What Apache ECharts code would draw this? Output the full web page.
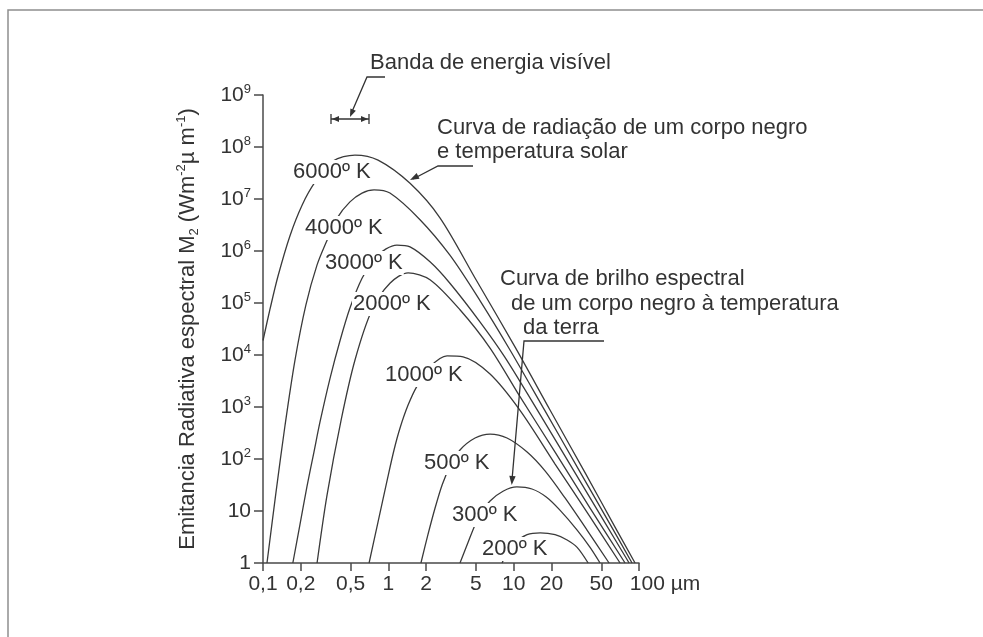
<!DOCTYPE html>
<html><head><meta charset="utf-8">
<script src="https://cdn.jsdelivr.net/npm/echarts@6/dist/echarts.min.js"></script>
<style>html,body{margin:0;padding:0;background:#fff}#c{width:983px;height:637px}</style>
</head><body><div id="c"></div>
<script>
// ---- axis ticks ----
const xTicks = [0.1, 0.2, 0.5, 1, 2, 5, 10, 20, 50, 100];
const xTickLabels = ['0,1', '0,2', '0,5', '1', '2', '5', '10', '20', '50', '{u|100 µm}'];
const yTicks = [1, 10, 1e2, 1e3, 1e4, 1e5, 1e6, 1e7, 1e8, 1e9];
const yTickLabels = ['1', '10', '10{s|2}', '10{s|3}', '10{s|4}', '10{s|5}', '10{s|6}', '10{s|7}', '10{s|8}', '10{s|9}'];

// ---- curves (wavelength µm, spectral emittance) ----
const lam6000 = [0.1, 0.1137, 0.1318, 0.164, 0.205, 0.26, 0.362, 0.542, 0.828, 1.49, 2.59, 5.01, 10.3, 19.5, 37.2, 64.4, 93];
const m6000   = [1.9e4, 7.6e4, 3.3e5, 1.95e6, 7.6e6, 2.1e7, 5.4e7, 7.0e7, 5.6e7, 2.0e7, 4.3e6, 2.8e5, 1.4e4, 875, 54, 4.9, 1];
const lam4000 = [0.1076, 0.127, 0.150, 0.180, 0.220, 0.270, 0.324, 0.390, 0.494, 0.617, 0.769, 1.03, 1.79, 3.1, 5.4, 9.35, 17.8, 33.9, 58.7, 88];
const m4000   = [1, 23, 450, 8.0e3, 9.2e4, 5.4e5, 1.6e6, 4.3e6, 8.8e6, 1.3e7, 1.5e7, 1.3e7, 4.0e6, 8.3e5, 1.1e5, 1.25e4, 840, 56, 5.6, 1];
const lam3000 = [0.173, 0.197, 0.224, 0.255, 0.285, 0.343, 0.412, 0.494, 0.617, 0.783, 0.959, 1.17, 1.49, 2.15, 3.1, 5.4, 8.5, 16.3, 30.9, 53.6, 83.4];
const m3000   = [1, 5.4, 29, 136, 515, 3.6e3, 1.9e4, 8.0e4, 3.0e5, 7.4e5, 1.1e6, 1.3e6, 1.2e6, 6.2e5, 2.4e5, 4.3e4, 9.1e3, 705, 54, 5.9, 1];
const lam2000 = [0.27, 0.324, 0.42, 0.542, 0.741, 1.03, 1.44, 2.15, 3.73, 6.48, 11.2, 21.4, 40.7, 77.4];
const m2000   = [1, 20, 560, 8e3, 7.4e4, 2.4e5, 3.8e5, 2.8e5, 7.4e4, 1.36e4, 1.6e3, 136, 11.4, 1];
const lam1000 = [0.702, 0.828, 0.976, 1.11, 1.24, 1.44, 1.69, 2.15, 2.94, 3.95, 6.48, 11.2, 21.4, 40.7, 70.6];
const m1000   = [1, 6.2, 38, 149, 395, 1.1e3, 2.5e3, 5.9e3, 9.6e3, 9.2e3, 4.3e3, 870, 80, 7.7, 1];
const lam500  = [1.82, 2.07, 2.36, 2.69, 3.11, 3.73, 4.92, 6.48, 8.85, 12.8, 17.8, 25.7, 38.5, 57.7];
const m500    = [1, 3.5, 11.4, 32, 73, 149, 253, 302, 253, 136, 59, 17.8, 4.3, 1];
const lam300  = [3.73, 4.33, 4.92, 5.60, 6.48, 8.22, 10.6, 14.0, 18.2, 23.4, 32.1, 40.7, 48.9];
const m300    = [1, 2.5, 5.4, 9.6, 15.6, 24, 29, 26.5, 18.6, 10.4, 4.3, 2.0, 1];
const lam200  = [8.08, 8.85, 10.1, 12.8, 16.3, 21.4, 26.7, 32.1, 39.3];
const m200    = [1, 1.56, 2.4, 3.5, 3.8, 3.5, 2.77, 2.0, 1];

const curveNames = ['6000º K', '4000º K', '3000º K', '2000º K', '1000º K', '500º K', '300º K', '200º K'];
const curveLams = [lam6000, lam4000, lam3000, lam2000, lam1000, lam500, lam300, lam200];
const curveVals = [m6000, m4000, m3000, m2000, m1000, m500, m300, m200];

const FONT = 'Liberation Sans, Arial, sans-serif';
const INK = '#333333';
const LINE = '#3a3a3a';

function lookup(v, ticks, labels) {
  for (let i = 0; i < ticks.length; i++) {
    if (Math.abs(Math.log10(v) - Math.log10(ticks[i])) < 1e-6) return labels[i];
  }
  return '';
}

const series = curveNames.map((n, k) => ({
  name: n, type: 'line', smooth: 0.3, symbol: 'none', silent: true,
  lineStyle: { color: LINE, width: 1.3 },
  data: curveLams[k].map((l, i) => [l, curveVals[k][i]]),
  z: 2
}));

// ---- annotation helpers (graphic) ----
function txt(x, y, s, bg) {
  const st = { text: s, fontSize: 22, fontFamily: FONT, fill: INK, align: 'left', verticalAlign: 'middle' };
  if (bg) { st.backgroundColor = '#fff'; st.padding = [1, 1, 1, 1]; }
  return { type: 'text', x: x, y: y, style: st, z: 100 };
}
function pline(pts, w) {
  return { type: 'polyline', shape: { points: pts }, style: { stroke: INK, lineWidth: w || 1.3, fill: null }, z: 100 };
}
function head(tip, from, len, half) {
  len = len || 9; half = half || 3.2;
  const dx = tip[0] - from[0], dy = tip[1] - from[1];
  const d = Math.hypot(dx, dy), ux = dx / d, uy = dy / d;
  const bx = tip[0] - ux * len, by = tip[1] - uy * len;
  return { type: 'polygon', shape: { points: [tip, [bx - uy * half, by + ux * half], [bx + uy * half, by - ux * half]] }, style: { fill: INK }, z: 100 };
}

const graphics = [
  { type: 'rect', shape: { x: 8, y: 10, width: 1200, height: 1000 }, style: { fill: null, stroke: '#8f8f8f', lineWidth: 1.5 }, z: 0, silent: true },
  // labels on curves
  txt(292, 172, '6000º K', true),
  txt(304, 228, '4000º K', true),
  txt(324, 263, '3000º K', true),
  txt(352, 304, '2000º K', true),
  txt(384, 375, '1000º K', true),
  txt(423, 463, '500º K', true),
  txt(451, 515, '300º K', true),
  txt(481, 549, '200º K', true),
  // visible band annotation
  txt(370, 63, 'Banda de energia visível'),
  pline([[385, 77], [367, 77], [351, 114]]),
  head([350, 117], [367, 77], 8, 3),
  pline([[331, 119], [369, 119]]),
  pline([[331, 114], [331, 124]]),
  pline([[369, 114], [369, 124]]),
  head([332, 119], [345, 119], 7, 3),
  head([368, 119], [355, 119], 7, 3),
  // solar curve annotation
  txt(437, 128, 'Curva de radiação de um corpo negro'),
  txt(437, 152, 'e temperatura solar'),
  pline([[473, 166], [438, 166], [413, 179]]),
  head([410, 180], [438, 166], 9, 3.2),
  // earth curve annotation
  txt(500, 279, 'Curva de brilho espectral'),
  txt(511, 304, 'de um corpo negro à temperatura'),
  txt(523, 328, 'da terra'),
  pline([[604, 341], [524, 341], [512, 480]]),
  head([511.7, 485], [524, 341], 9, 3.2)
];

const chart = echarts.init(document.getElementById('c'), null, { renderer: 'canvas' });
chart.setOption({
  animation: false,
  backgroundColor: '#fff',
  grid: { left: 263, right: 344, top: 95, bottom: 74, containLabel: false },
  xAxis: {
    type: 'log', logBase: 10, min: 0.1, max: 100,
    axisLine: { show: true, lineStyle: { color: '#4a4a4a', width: 1.5 } },
    axisTick: { show: true, inside: false, length: 8, lineStyle: { color: '#4a4a4a', width: 1.5 }, customValues: xTicks },
    minorTick: { show: false },
    splitLine: { show: false },
    axisLabel: {
      customValues: xTicks, margin: 11, fontSize: 21, fontFamily: FONT, color: INK,
      formatter: v => lookup(v, xTicks, xTickLabels),
      rich: { u: { fontSize: 21, fontFamily: FONT, color: INK, padding: [0, 0, 0, 52] } }
    }
  },
  yAxis: {
    type: 'log', logBase: 10, min: 1, max: 1e9,
    axisLine: { show: true, lineStyle: { color: '#4a4a4a', width: 1.5 } },
    axisTick: { show: true, inside: false, length: 9, lineStyle: { color: '#4a4a4a', width: 1.5 }, customValues: yTicks },
    minorTick: { show: false },
    splitLine: { show: false },
    axisLabel: {
      customValues: yTicks, margin: 12, fontSize: 21, fontFamily: FONT, color: INK, lineHeight: 24,
      formatter: v => lookup(v, yTicks, yTickLabels),
      rich: { s: { fontSize: 13, fontFamily: FONT, color: INK, verticalAlign: 'top', lineHeight: 13 } }
    },
    name: 'Emitancia Radiativa espectral M{sub|2} (Wm{sup|-2}µ m{sup|-1})',
    nameLocation: 'middle', nameRotate: 90, nameGap: 62,
    nameTextStyle: {
      fontSize: 22, fontFamily: FONT, color: INK, lineHeight: 26,
      rich: {
        sub: { fontSize: 13, fontFamily: FONT, color: INK, verticalAlign: 'bottom', lineHeight: 13 },
        sup: { fontSize: 13, fontFamily: FONT, color: INK, verticalAlign: 'top', lineHeight: 13 }
      }
    }
  },
  series: series,
  graphic: { elements: graphics }
});
</script></body></html>
